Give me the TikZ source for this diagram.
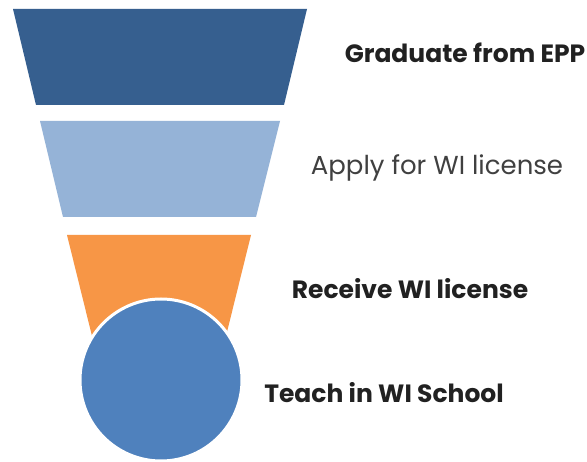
\documentclass[tikz,border=0pt]{standalone}
\usepackage{fontspec}
\setmainfont{Poppins}
\begin{document}
\begin{tikzpicture}[x=1pt,y=-1pt,
  lbl/.style={anchor=center, text=black!87, inner sep=0pt},
  lblb/.style={lbl, font=\fontsize{25}{29}\selectfont\bfseries},
  lblr/.style={lbl, font=\fontsize{26}{30}\selectfont, text=black!75}]
\definecolor{darkblue}{HTML}{365F8F}
\definecolor{lightblue}{HTML}{95B3D7}
\definecolor{orangec}{HTML}{F79646}
\definecolor{midblue}{HTML}{4F81BD}
\useasboundingbox[fill=white] (0,0) rectangle (587,462);
% funnel bands
\fill[darkblue] (13,9) -- (307,9) -- (284,105) -- (36,105) -- cycle;
\fill[lightblue] (40,121) -- (280,121) -- (256,217) -- (63,217) -- cycle;
\fill[orangec] (67,235) -- (251,235) -- (226,336) -- (92,336) -- cycle;
% outlet circle
\node[circle, fill=midblue, draw=white, line width=3pt, minimum size=162pt, inner sep=0pt] (c) at (161,380) {};
% labels
\node[lblb] (t1) at (465,53) {Graduate from EPP};
\node[lblr] (t2) at (437,168) {Apply for WI license};
\node[lblb] (t3) at (410,289) {Receive WI license};
\node[lblb] (t4) at (384,393) {Teach in WI School};
\end{tikzpicture}
\end{document}
